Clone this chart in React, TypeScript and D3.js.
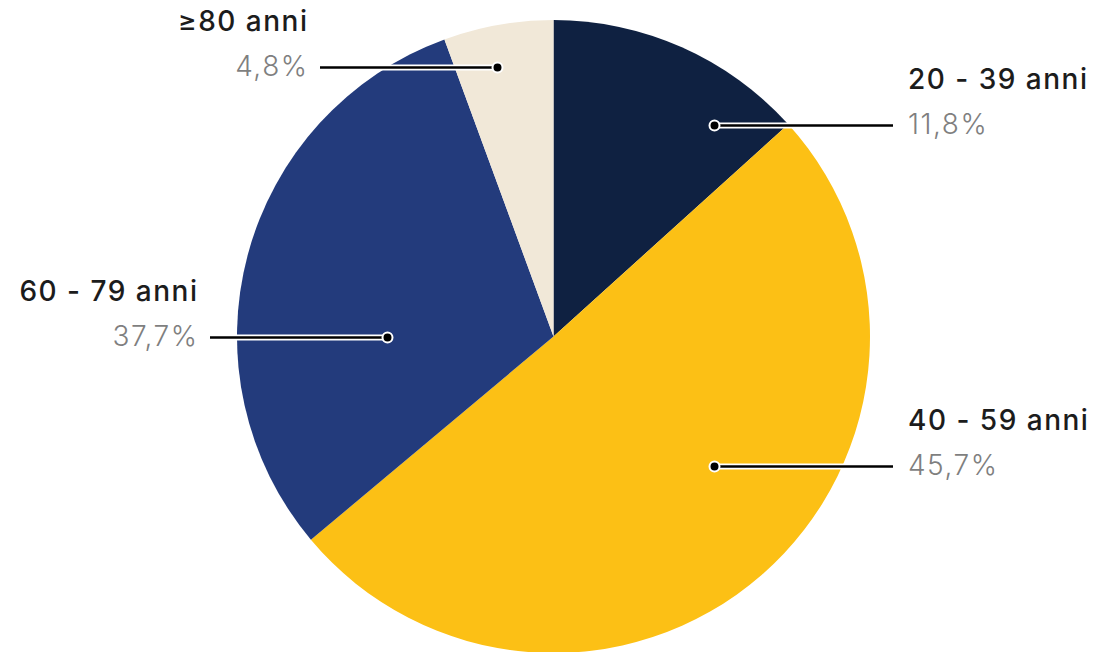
import React from "react";
import * as d3 from "d3";

// Age classes and values
const categories = ["20 - 39 anni", "40 - 59 anni", "60 - 79 anni", "≥80 anni"];
const percentLabels = ["11,8%", "45,7%", "37,7%", "4,8%"];
// Slice sizes as drawn in the reference (angular shares, %)
const sliceValues = [13.3, 50.6, 30.5, 5.6];
const colors = ["#0f2141", "#fcc015", "#233b7c", "#f1e8d8"];

// Layout of callouts (offsets from the pie centre, px)
const callouts = [
  { dx: 161, dy: -211, side: "right" },
  { dx: 161, dy: 130, side: "right" },
  { dx: -166, dy: 1, side: "left" },
  { dx: -56, dy: -269, side: "left" },
];
const lineEnds = [893, 893, 210, 320];

const W = 1096;
const H = 652;
const cx = 553.5;
const cy = 336.5;
const R = 316.5;

export default function App() {
  const pie = d3
    .pie<number>()
    .sort(null)
    .value((d) => d);
  const arcs = pie(sliceValues);
  const arc = d3.arc<d3.PieArcDatum<number>>().innerRadius(0).outerRadius(R);
  const font = "Inter, 'Noto Sans', sans-serif";

  return (
    <svg
      width={W}
      height={H}
      style={{ position: "absolute", left: 0, top: 0, background: "#fff" }}
    >
      <g transform={`translate(${cx},${cy})`}>
        {arcs.map((a, i) => (
          <path key={i} d={arc(a) || ""} fill={colors[i]} />
        ))}
      </g>
      {callouts.map((c, i) => {
        const x = cx + c.dx;
        const y = cy + c.dy;
        const xe = lineEnds[i];
        const right = c.side === "right";
        const tx = right ? xe + 15 : xe - 11.5;
        const anchor = right ? "start" : "end";
        return (
          <g key={i}>
            <line x1={x} y1={y} x2={xe} y2={y} stroke="#fff" strokeWidth={6} />
            <line x1={x} y1={y} x2={xe} y2={y} stroke="#000" strokeWidth={2.5} />
            <circle cx={x} cy={y} r={5} fill="#000" stroke="#fff" strokeWidth={2} />
            <text
              x={tx}
              y={y - 37}
              textAnchor={anchor}
              fontFamily={font}
              fontWeight={550}
              fontSize={28}
              letterSpacing={1.5}
              fill="#1c1c1c"
            >
              {categories[i]}
            </text>
            <text
              x={tx}
              y={y + 8}
              textAnchor={anchor}
              fontFamily={font}
              fontWeight={350}
              fontSize={28}
              letterSpacing={1.5}
              fill="#7f7f7f"
            >
              {percentLabels[i]}
            </text>
          </g>
        );
      })}
    </svg>
  );
}
